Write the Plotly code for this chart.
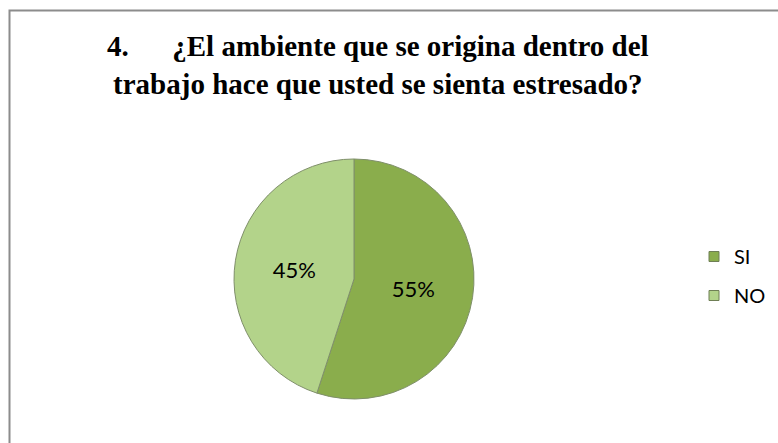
import plotly.graph_objects as go

labels = ["SI", "NO"]
values = [55, 45]
colors = ["#8aad4c", "#b3d38a"]
title_text = "<b>4.      ¿El ambiente que se origina dentro del<br>trabajo hace que usted se sienta estresado?</b>"

W, H = 778, 443
cx, cy, r = 354, 279, 120

fig = go.Figure(go.Pie(
    labels=labels,
    values=values,
    sort=False,
    direction="clockwise",
    rotation=0,
    marker=dict(colors=colors, line=dict(color="#7f8f6a", width=1)),
    textinfo="percent",
    texttemplate="%{percent:.0%}",
    textposition="inside",
    insidetextorientation="horizontal",
    textfont=dict(family="Lato", size=22, color="#000000"),
    domain=dict(x=[(cx - r) / W, (cx + r) / W], y=[(H - cy - r) / H, (H - cy + r) / H]),
    hoverinfo="label+percent",
    showlegend=False,
))

# legend entries (square swatches) matching the pie slices
for lab, col in zip(labels, colors):
    fig.add_trace(go.Scatter(
        x=[None], y=[None], mode="markers", name=lab, legendgroup=lab,
        marker=dict(symbol="square", size=10, color=col, line=dict(color="#6f7f55", width=1)),
        showlegend=True, hoverinfo="skip",
    ))

fig.update_layout(
    width=W, height=H,
    margin=dict(l=0, r=0, t=0, b=0),
    paper_bgcolor="white",
    plot_bgcolor="white",
    xaxis=dict(visible=False),
    yaxis=dict(visible=False),
    annotations=[dict(
        text=title_text, xref="paper", yref="paper",
        x=378 / W, xanchor="center", y=1 - 65 / H, yanchor="middle",
        showarrow=False, align="center",
        font=dict(family="Liberation Serif", size=29, color="#000000"),
    )],
    legend=dict(
        x=694 / W, xanchor="left",
        y=1 - 237 / H, yanchor="top",
        font=dict(family="Lato", size=20, color="#000000"),
        itemwidth=30,
        tracegroupgap=10,
        bgcolor="rgba(0,0,0,0)",
    ),
    shapes=[dict(
        type="rect", xref="paper", yref="paper",
        x0=9.5 / W, x1=1.1, y0=-0.1, y1=1 - 10.5 / H,
        line=dict(color="#8c8c8c", width=2),
    )],
)

fig.write_html("out.html")
